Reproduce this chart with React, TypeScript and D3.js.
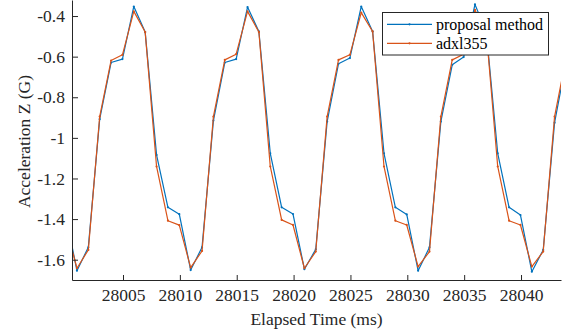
import React, { useEffect, useRef } from 'react';
import * as d3 from 'd3';

// sample times (ms), about 1 ms apart
const times = [
  27999.95, 28000.95, 28001.95, 28002.95, 28003.95, 28004.95, 28005.95, 28006.95, 28007.95, 28008.95,
  28009.95, 28010.95, 28011.95, 28012.95, 28013.95, 28014.95, 28015.95, 28016.95, 28017.95, 28018.95,
  28019.95, 28020.95, 28021.95, 28022.95, 28023.95, 28024.95, 28025.95, 28026.95, 28027.95, 28028.95,
  28029.95, 28030.95, 28031.95, 28032.95, 28033.95, 28034.95, 28035.95, 28036.95, 28037.95, 28038.95,
  28039.95, 28040.95, 28041.95, 28042.95, 28043.95,
];

const proposal = [
  -1.376, -1.654, -1.539, -0.908, -0.629, -0.612, -0.353, -0.479, -1.084, -1.342,
  -1.376, -1.651, -1.539, -0.915, -0.629, -0.612, -0.356, -0.476, -1.076, -1.342,
  -1.375, -1.647, -1.549, -0.92, -0.635, -0.607, -0.353, -0.476, -1.076, -1.342,
  -1.377, -1.654, -1.539, -0.92, -0.64, -0.602, -0.343, -0.478, -1.076, -1.342,
  -1.38, -1.659, -1.552, -0.925, -0.63,
];

const adxl355 = [
  -1.43, -1.642, -1.552, -0.895, -0.619, -0.591, -0.377, -0.479, -1.141, -1.408,
  -1.43, -1.639, -1.557, -0.895, -0.616, -0.588, -0.377, -0.479, -1.141, -1.404,
  -1.429, -1.642, -1.56, -0.895, -0.616, -0.591, -0.383, -0.476, -1.141, -1.408,
  -1.429, -1.634, -1.56, -0.895, -0.616, -0.588, -0.37, -0.48, -1.141, -1.408,
  -1.429, -1.634, -1.56, -0.895, -0.61,
];

const xTicks = [28005, 28010, 28015, 28020, 28025, 28030, 28035, 28040];
const yTicks = [-1.6, -1.4, -1.2, -1, -0.8, -0.6, -0.4];

const seriesNames = ['proposal method', 'adxl355'];
const seriesColors = ['#0072BD', '#D95319'];

export default function App() {
  const svgRef = useRef<SVGSVGElement>(null);

  useEffect(() => {
    if (!svgRef.current) return;
    const svg = d3.select(svgRef.current);
    svg.selectAll('*').remove();

    const left = 72, right = 561, top = 0, bottom = 280;
    const axisColor = '#262626';
    const font = '"Liberation Serif", "Times New Roman", serif';

    const x = d3.scaleLinear().domain([28000.515, 28043.515]).range([left, right]);
    const y = d3.scaleLinear().domain([-1.7, -0.321]).range([bottom, top]);

    svg.append('defs').append('clipPath').attr('id', 'plot-clip')
      .append('rect')
      .attr('x', left).attr('y', top)
      .attr('width', right - left).attr('height', bottom - top);

    // lines
    const line = d3.line<number>()
      .x((_, i) => x(times[i]))
      .y(d => y(d));

    [proposal, adxl355].forEach((vals, k) => {
      const g = svg.append('g').attr('clip-path', 'url(#plot-clip)');
      g.append('path')
        .attr('d', line(vals))
        .attr('fill', 'none')
        .attr('stroke', seriesColors[k])
        .attr('stroke-width', 1.2)
        .attr('stroke-linejoin', 'round');
      g.selectAll('circle')
        .data(vals)
        .enter()
        .append('circle')
        .attr('cx', (_, i) => x(times[i]))
        .attr('cy', d => y(d))
        .attr('r', 1.1)
        .attr('fill', seriesColors[k]);
    });

    // x axis
    const xAxis = svg.append('g')
      .attr('transform', `translate(0,${bottom})`)
      .call(d3.axisBottom(x).tickValues(xTicks).tickSizeInner(-5).tickSizeOuter(0).tickPadding(9).tickFormat(d3.format('d')));
    xAxis.select('.domain').attr('stroke', axisColor);
    xAxis.selectAll('line').attr('stroke', axisColor);
    xAxis.selectAll('text')
      .attr('fill', axisColor)
      .attr('font-family', font)
      .attr('font-size', 17.5)
      .attr('dy', '0.71em');

    // y axis
    const yAxis = svg.append('g')
      .attr('transform', `translate(${left},0)`)
      .call(d3.axisLeft(y).tickValues(yTicks).tickSizeInner(-6).tickSizeOuter(0).tickPadding(7).tickFormat(d => String(d)));
    yAxis.select('.domain').attr('stroke', axisColor);
    yAxis.selectAll('line').attr('stroke', axisColor);
    yAxis.selectAll('text')
      .attr('fill', axisColor)
      .attr('font-family', font)
      .attr('font-size', 17.5);

    // axis labels
    svg.append('text')
      .attr('x', (left + right) / 2)
      .attr('y', 325)
      .attr('text-anchor', 'middle')
      .attr('font-family', font)
      .attr('font-size', 17.5)
      .attr('fill', axisColor)
      .text('Elapsed Time (ms)');

    svg.append('text')
      .attr('transform', 'translate(29.5,141.5) rotate(-90)')
      .attr('text-anchor', 'middle')
      .attr('font-family', font)
      .attr('font-size', 17.5)
      .attr('fill', axisColor)
      .text('Acceleration Z (G)');

    // legend
    const lg = svg.append('g');
    lg.append('rect')
      .attr('x', 382.5).attr('y', 12.5)
      .attr('width', 166).attr('height', 42.5)
      .attr('fill', 'white')
      .attr('stroke', axisColor)
      .attr('stroke-width', 1);
    seriesNames.forEach((name, k) => {
      const ly = 24.3 + k * 19;
      lg.append('line')
        .attr('x1', 387).attr('x2', 432)
        .attr('y1', ly).attr('y2', ly)
        .attr('stroke', seriesColors[k])
        .attr('stroke-width', 1.2);
      lg.append('circle')
        .attr('cx', 409.5).attr('cy', ly).attr('r', 1.1)
        .attr('fill', seriesColors[k]);
      lg.append('text')
        .attr('x', 436).attr('y', ly)
        .attr('dy', '0.35em')
        .attr('font-family', font)
        .attr('font-size', 16)
        .attr('fill', '#000')
        .text(name);
    });
  }, []);

  return (
    <svg
      ref={svgRef}
      width={570}
      height={332}
      style={{ position: 'absolute', left: 0, top: 0, background: 'white' }}
    />
  );
}
